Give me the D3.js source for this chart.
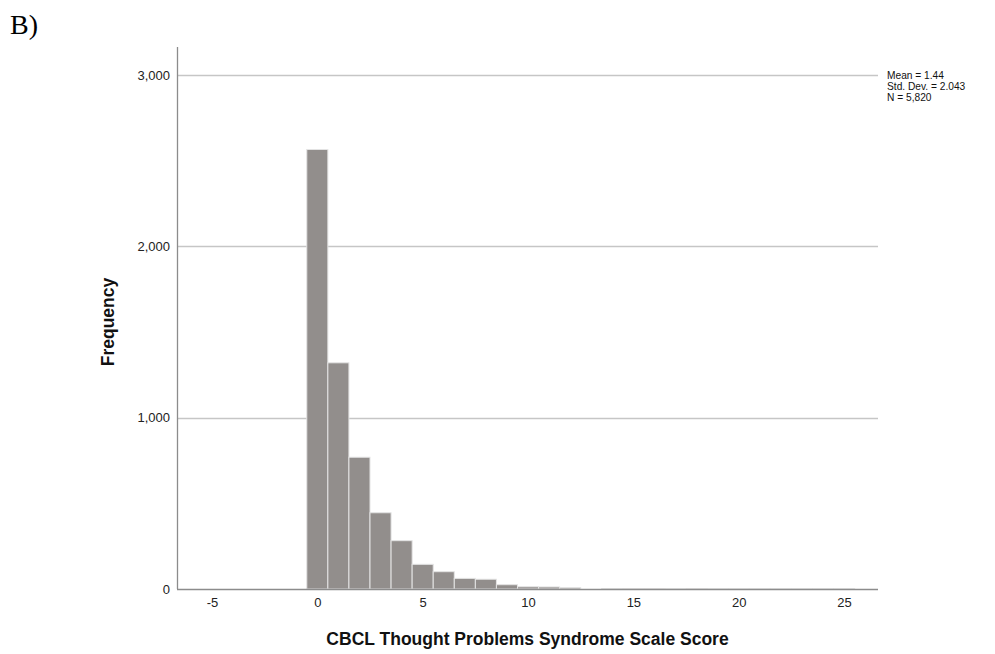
<!DOCTYPE html>
<html>
<head>
<meta charset="utf-8">
<script src="https://cdn.jsdelivr.net/npm/d3@7"></script>
<style>
body{margin:0;background:#fff;}
svg{display:block;}
</style>
</head>
<body>
<svg id="chart" width="995" height="654"></svg>
<script>
const binStarts = [0,1,2,3,4,5,6,7,8,9,10,11,12,13,14,15,16,17,18,19,20,21,22,23,24,25,26];
const counts = [2565,1320,769,445,282,144,101,62,57,25,13,12,8,0,3,2,2,1,2,1,1,1,1,1,1,1,0];
const xTicks = [-5,0,5,10,15,20,25];
const yTicks = [0,1000,2000,3000];
const statsLines = ["Mean = 1.44","Std. Dev. = 2.043","N = 5,820"];
const panelLabel = "B)";
const xTitle = "CBCL Thought Problems Syndrome Scale Score";
const yTitle = "Frequency";

const svg = d3.select("#chart");
const pLeft = 177, pRight = 878, pTop = 47, pBottom = 589;
const x = d3.scaleLinear().domain([-6.66, 26.61]).range([pLeft, pRight]);
const y = d3.scaleLinear().domain([0, 3163]).range([pBottom, pTop]);
const FONT = "Arial, 'Liberation Sans', sans-serif";

// gridlines
svg.append("g").selectAll("line").data(yTicks.filter(d => d > 0)).join("line")
  .attr("x1", pLeft).attr("x2", pRight)
  .attr("y1", d => Math.round(y(d)) + 0.5).attr("y2", d => Math.round(y(d)) + 0.5)
  .attr("stroke", "#c6c6c6").attr("stroke-width", 1.3);

// bars
svg.append("g").selectAll("rect").data(binStarts.map((b, i) => ({b, c: counts[i]})).filter(d => d.c > 0)).join("rect")
  .attr("x", d => x(d.b - 0.5))
  .attr("width", d => x(d.b + 0.5) - x(d.b - 0.5))
  .attr("y", d => y(d.c))
  .attr("height", d => pBottom - y(d.c))
  .attr("fill", "#928e8c")
  .attr("stroke", "#e4e4e4")
  .attr("stroke-width", 1);

// axes lines
svg.append("line").attr("x1", pLeft + 0.5).attr("x2", pLeft + 0.5).attr("y1", pTop).attr("y2", pBottom)
  .attr("stroke", "#8c8c8c").attr("stroke-width", 1.3);
svg.append("line").attr("x1", pLeft).attr("x2", pRight).attr("y1", pBottom + 0.5).attr("y2", pBottom + 0.5)
  .attr("stroke", "#8c8c8c").attr("stroke-width", 1.5);

// y tick labels
const yAxis = d3.axisLeft(y).tickValues(yTicks).tickSize(0).tickPadding(7).tickFormat(d3.format(","));
const gy = svg.append("g").attr("transform", `translate(${pLeft},0)`).call(yAxis);
gy.select(".domain").remove();
gy.selectAll("text").attr("font-family", FONT).attr("font-size", 13).attr("fill", "#222");

// x tick labels
const xAxis = d3.axisBottom(x).tickValues(xTicks).tickSize(0).tickPadding(9).tickFormat(d => String(d));
const gx = svg.append("g").attr("transform", `translate(0,${pBottom})`).call(xAxis);
gx.select(".domain").remove();
gx.selectAll("text").attr("font-family", FONT).attr("font-size", 13).attr("fill", "#222");

// titles
svg.append("text").attr("x", 527.5).attr("y", 645).attr("text-anchor", "middle")
  .attr("font-family", FONT).attr("font-size", 17.5).attr("font-weight", "bold")
  .attr("fill", "#111").text(xTitle);
svg.append("text").attr("transform", "translate(114,322) rotate(-90)").attr("text-anchor", "middle")
  .attr("font-family", FONT).attr("font-size", 17.5).attr("font-weight", "bold")
  .attr("fill", "#111").text(yTitle);

// stats
svg.append("g").selectAll("text").data(statsLines).join("text")
  .attr("x", 887).attr("y", (d, i) => 79 + i * 11)
  .attr("font-family", FONT).attr("font-size", 10.2).attr("fill", "#111")
  .text(d => d);

// panel label
svg.append("text").attr("x", 10).attr("y", 34)
  .attr("font-family", "'Liberation Serif', 'Times New Roman', serif").attr("font-size", 28).attr("fill", "#000")
  .text(panelLabel);
</script>
</body>
</html>
